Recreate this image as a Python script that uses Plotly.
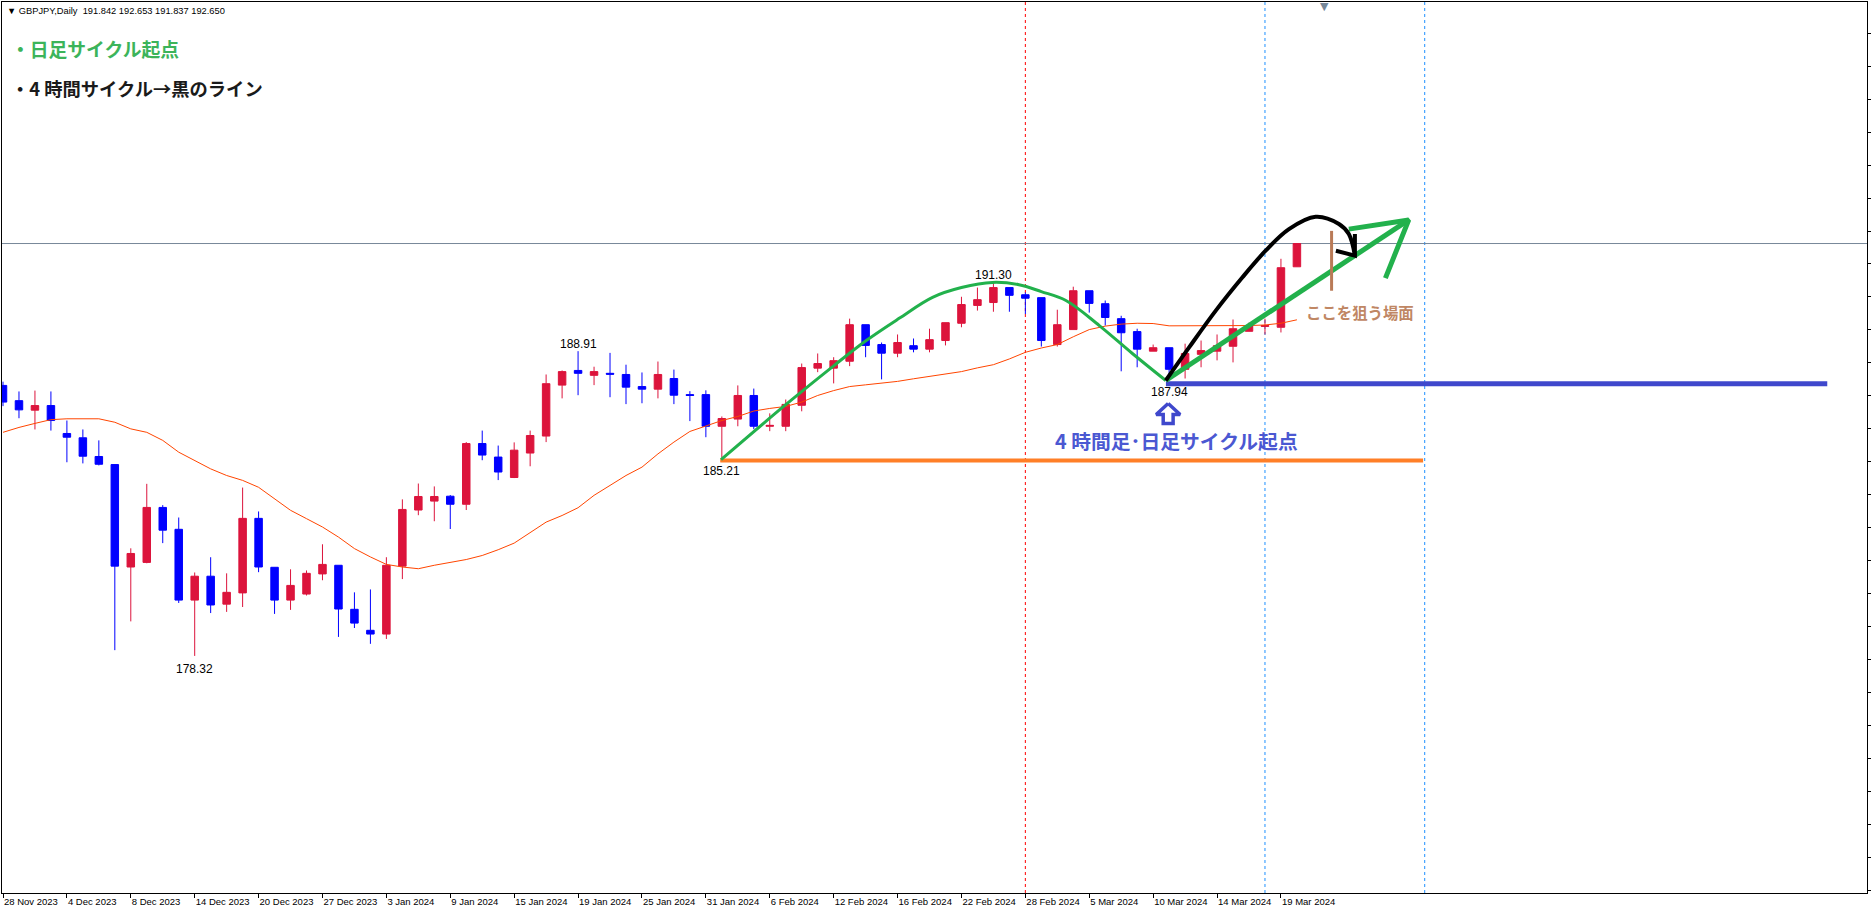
import plotly.graph_objects as go

# ---------------- data (GBPJPY daily) ----------------
bars = list(range(82))
tick_bars = [0, 4, 8, 12, 16, 20, 24, 28, 32, 36, 40, 44, 48, 52, 56, 60, 64, 68, 72, 76, 80]
tick_labels = ["28 Nov 2023", "4 Dec 2023", "8 Dec 2023", "14 Dec 2023", "20 Dec 2023",
               "27 Dec 2023", "3 Jan 2024", "9 Jan 2024", "15 Jan 2024", "19 Jan 2024",
               "25 Jan 2024", "31 Jan 2024", "6 Feb 2024", "12 Feb 2024", "16 Feb 2024",
               "22 Feb 2024", "28 Feb 2024", "5 Mar 2024", "10 Mar 2024", "14 Mar 2024",
               "19 Mar 2024"]

opens = [187.72, 187.19, 186.86, 187.02, 186.05, 185.90, 185.25, 184.97, 181.41, 181.57,
         183.48, 182.72, 180.26, 181.09, 180.12, 180.51, 183.10, 181.40, 180.26, 180.47,
         181.17, 181.47, 179.94, 179.21, 179.08, 181.44, 183.39, 183.70, 183.87, 183.59,
         185.70, 185.23, 184.52, 185.37, 185.96, 187.73, 188.24, 188.07, 188.14, 188.10,
         187.68, 187.59, 187.96, 187.40, 187.40, 186.30, 186.55, 187.37, 186.30, 186.30,
         187.03, 188.32, 188.32, 188.56, 189.83, 189.14, 188.84, 189.10, 188.98, 189.28,
         189.88, 190.50, 190.60, 191.12, 190.87, 190.77, 189.14, 189.66, 191.01, 190.56,
         190.04, 189.59, 188.91, 189.03, 188.28, 188.80, 188.91, 189.08, 189.60, 189.77,
         189.74, 191.842]
highs = [187.85, 187.51, 187.54, 187.51, 186.50, 186.19, 185.81, 184.97, 182.06, 184.30,
         183.56, 183.13, 181.22, 181.75, 181.19, 184.17, 183.34, 181.40, 181.33, 181.29,
         182.20, 181.47, 180.53, 180.63, 181.75, 183.76, 184.31, 184.21, 183.91, 185.75,
         186.15, 185.63, 185.74, 186.15, 188.10, 188.24, 188.91, 188.37, 188.85, 188.44,
         188.17, 188.55, 188.27, 187.52, 187.55, 186.64, 187.72, 187.61, 186.75, 187.23,
         188.48, 188.83, 188.70, 190.04, 189.83, 189.21, 189.49, 189.35, 189.69, 189.90,
         190.80, 191.12, 191.30, 191.12, 190.95, 190.77, 190.35, 191.15, 191.01, 190.67,
         190.14, 189.69, 189.14, 189.03, 189.17, 189.28, 189.49, 190.01, 189.90, 190.04,
         192.12, 192.653]
lows = [187.00, 186.58, 186.19, 186.15, 185.05, 185.01, 184.94, 178.52, 179.52, 181.54,
        182.24, 180.16, 178.32, 179.81, 179.85, 180.02, 181.23, 179.78, 179.92, 180.42,
        180.95, 178.98, 179.29, 178.74, 178.91, 180.99, 183.21, 183.00, 182.73, 183.39,
        185.12, 184.43, 184.50, 184.91, 185.75, 187.27, 187.38, 187.73, 187.31, 187.07,
        187.10, 187.27, 187.07, 186.48, 185.92, 185.21, 186.30, 186.20, 186.13, 186.13,
        186.82, 188.18, 187.79, 188.39, 188.70, 187.93, 188.70, 188.87, 188.87, 189.11,
        189.74, 190.32, 190.28, 190.28, 190.20, 189.07, 189.07, 189.66, 190.25, 189.80,
        188.21, 188.35, 188.91, 187.94, 187.96, 188.35, 188.59, 188.52, 189.60, 189.49,
        189.56, 191.837]
closes = [187.14, 186.87, 187.02, 186.50, 185.92, 185.26, 184.98, 181.44, 181.88, 183.48,
          182.69, 180.26, 181.09, 180.09, 180.53, 183.10, 181.41, 180.26, 180.77, 181.19,
          181.50, 179.95, 179.46, 179.08, 181.47, 183.41, 183.86, 183.86, 183.59, 185.70,
          185.30, 184.71, 185.47, 185.98, 187.78, 188.20, 188.14, 188.20, 188.11, 187.66,
          187.59, 188.10, 187.38, 187.37, 186.30, 186.57, 187.37, 186.30, 186.33, 187.06,
          188.34, 188.48, 188.58, 189.83, 189.11, 188.84, 189.21, 188.98, 189.31, 189.90,
          190.53, 190.70, 191.12, 190.85, 190.75, 189.28, 189.83, 191.01, 190.57, 190.08,
          189.55, 188.98, 189.03, 188.28, 188.83, 188.93, 189.10, 189.69, 189.80, 189.80,
          191.81, 192.650]
ma_values = [186.09, 186.26, 186.40, 186.53, 186.56, 186.56, 186.56, 186.44, 186.21, 186.09,
             185.81, 185.40, 185.11, 184.82, 184.59, 184.42, 184.18, 183.78, 183.38, 183.09,
             182.80, 182.45, 182.05, 181.76, 181.50, 181.41, 181.35, 181.47, 181.57, 181.67,
             181.81, 182.01, 182.24, 182.62, 182.97, 183.20, 183.47, 183.90, 184.24, 184.59,
             184.88, 185.34, 185.75, 186.12, 186.31, 186.50, 186.64, 186.83, 186.92, 186.99,
             187.14, 187.37, 187.54, 187.68, 187.74, 187.79, 187.86, 187.95, 188.03, 188.12,
             188.20, 188.33, 188.44, 188.64, 188.87, 189.02, 189.14, 189.41, 189.66, 189.78,
             189.85, 189.88, 189.87, 189.79, 189.79, 189.79, 189.79, 189.79, 189.80, 189.82,
             189.88, 190.00]

bid_price = 192.650
high_label_bars = [36, 62]
low_label_bars = [12, 45, 73]

# hand-drawn overlays (bar index, price)
arc_x = [44.95, 49.0, 52.0, 54.04, 56.1, 58.19, 60.0, 61.94, 63.6, 65.0, 66.54, 68.63, 70.7, 72.79]
arc_y = [185.14, 187.05, 188.40, 189.28, 190.05, 190.78, 191.12, 191.30, 191.22, 190.98, 190.67, 189.80, 188.83, 187.89]
green_line_x = [72.79, 88.0]
green_line_y = [187.89, 193.47]
green_head_x = [84.25, 88.0, 86.54]
green_head_y = [193.15, 193.47, 191.45]
black_x = [72.79, 74.25, 75.92, 77.58, 79.04, 80.50, 82.17, 83.63, 84.25, 84.63]
black_y = [187.89, 189.04, 190.32, 191.47, 192.40, 193.15, 193.58, 193.33, 192.98, 192.23]
black_head_x = [84.63, 84.63, 83.44]
black_head_y = [192.98, 192.23, 192.40]
brown_x = [83.17, 83.17]
brown_y = [193.09, 191.01]
orange_level = 185.11
orange_span = [44.9, 88.9]
blue_level = 187.78
blue_span = [72.8, 114.2]
up_arrow_x = [72.94, 73.69, 73.25, 73.25, 72.63, 72.63, 72.19, 72.94]
up_arrow_y = [187.09, 186.71, 186.71, 186.40, 186.40, 186.71, 186.71, 187.09]
red_vline = 64
blue_vlines = [79, 89]

# ---------------- figure ----------------
fig = go.Figure()

fig.add_trace(go.Scatter(x=bars, y=ma_values, mode="lines",
                         line=dict(color="#FF4500", width=1),
                         hoverinfo="skip", showlegend=False))

fig.add_trace(go.Candlestick(
    x=bars, open=opens, high=highs, low=lows, close=closes,
    increasing=dict(line=dict(color="#DC143C", width=1), fillcolor="#DC143C"),
    decreasing=dict(line=dict(color="#0000FF", width=1), fillcolor="#0000FF"),
    whiskerwidth=0, hoverinfo="skip", showlegend=False))

# horizontal levels
fig.add_trace(go.Scatter(x=orange_span, y=[orange_level, orange_level], mode="lines",
                         line=dict(color="#FF7F27", width=4), hoverinfo="skip", showlegend=False))
fig.add_trace(go.Scatter(x=blue_span, y=[blue_level, blue_level], mode="lines",
                         line=dict(color="#3F48CC", width=5), hoverinfo="skip", showlegend=False))

# green cycle arc
fig.add_trace(go.Scatter(x=arc_x, y=arc_y, mode="lines",
                         line=dict(color="#22B14C", width=3, shape="spline"),
                         hoverinfo="skip", showlegend=False))
# green arrow
fig.add_trace(go.Scatter(x=green_line_x, y=green_line_y, mode="lines",
                         line=dict(color="#22B14C", width=5), hoverinfo="skip", showlegend=False))
fig.add_trace(go.Scatter(x=green_head_x, y=green_head_y, mode="lines",
                         line=dict(color="#22B14C", width=5), hoverinfo="skip", showlegend=False))
# black curve arrow
fig.add_trace(go.Scatter(x=black_x, y=black_y, mode="lines",
                         line=dict(color="#000000", width=4, shape="spline"),
                         hoverinfo="skip", showlegend=False))
fig.add_trace(go.Scatter(x=black_head_x, y=black_head_y, mode="lines",
                         line=dict(color="#000000", width=4), hoverinfo="skip", showlegend=False))
# brown marker
fig.add_trace(go.Scatter(x=brown_x, y=brown_y, mode="lines",
                         line=dict(color="#B97A57", width=3), hoverinfo="skip", showlegend=False))
# blue hollow up arrow
fig.add_trace(go.Scatter(x=up_arrow_x, y=up_arrow_y, mode="lines", fill="toself",
                         fillcolor="white", line=dict(color="#3F48CC", width=3.5),
                         hoverinfo="skip", showlegend=False))

shapes = []
shapes.append(dict(type="line", xref="x", yref="paper", x0=red_vline, x1=red_vline, y0=0, y1=1,
                   line=dict(color="#FF0000", width=1, dash="3px,3px"), layer="below"))
for bv in blue_vlines:
    shapes.append(dict(type="line", xref="x", yref="paper", x0=bv, x1=bv, y0=0, y1=1,
                       line=dict(color="#1E90FF", width=1, dash="3px,3px"), layer="below"))
shapes.append(dict(type="line", xref="paper", yref="y", x0=0, x1=1, y0=bid_price, y1=bid_price,
                   line=dict(color="#778899", width=1), layer="below"))

annotations = []
for b in high_label_bars:
    annotations.append(dict(x=b, y=highs[b], xref="x", yref="y", text=f"{highs[b]:.2f}",
                            showarrow=False, yanchor="middle", yshift=7,
                            font=dict(family="Liberation Sans", size=12, color="black")))
for b in low_label_bars:
    annotations.append(dict(x=b, y=lows[b], xref="x", yref="y", text=f"{lows[b]:.2f}",
                            showarrow=False, yanchor="middle", yshift=-13,
                            font=dict(family="Liberation Sans", size=12, color="black")))

annotations.append(dict(x=0.0016, y=0.9899, xref="paper", yref="paper", xanchor="left",
                        yanchor="middle", showarrow=False,
                        text="▼ GBPJPY,Daily  191.842 192.653 191.837 192.650",
                        font=dict(family="Liberation Sans", size=9.3, color="black")))
annotations.append(dict(x=0.709, y=1.0, xref="paper", yref="paper", xanchor="center",
                        yanchor="top", showarrow=False, yshift=4, text="▼",
                        font=dict(family="DejaVu Sans", size=11, color="#778899")))
annotations.append(dict(x=0.0038, y=0.9473, xref="paper", yref="paper", xanchor="left",
                        yanchor="middle", showarrow=False, text="<b>・日足サイクル起点</b>",
                        font=dict(family="Noto Sans CJK JP", size=18.8, color="#3CB45A")))
annotations.append(dict(x=0.0038, y=0.9036, xref="paper", yref="paper", xanchor="left",
                        yanchor="middle", showarrow=False, text="<b>・4 時間サイクル→黒のライン</b>",
                        font=dict(family="Noto Sans CJK JP", size=18.3, color="#1A1A1A")))
annotations.append(dict(x=73.45, y=185.81, xref="x", yref="y", xanchor="center",
                        yanchor="middle", showarrow=False, text="<b>4 時間足･日足サイクル起点</b>",
                        font=dict(family="Noto Sans CJK JP", size=19.8, color="#4B58D2")))
annotations.append(dict(x=84.94, y=190.26, xref="x", yref="y", xanchor="center",
                        yanchor="middle", showarrow=False, text="<b>ここを狙う場面</b>",
                        font=dict(family="Noto Sans CJK JP", size=15.4, color="#C08764")))

fig.update_layout(
    width=1871, height=911,
    margin=dict(l=1, r=2, t=1, b=18),
    paper_bgcolor="white", plot_bgcolor="white",
    showlegend=False, shapes=shapes, annotations=annotations,
    boxgap=0.33,
    xaxis=dict(range=[-0.0625, 116.6875], rangeslider=dict(visible=False),
               tickmode="array", tickvals=tick_bars, ticktext=tick_labels,
               ticks="outside", ticklen=4, tickcolor="black",
               ticklabelposition="outside right",
               tickfont=dict(family="Liberation Sans", size=9.5, color="black"),
               showgrid=False, zeroline=False, showline=True, linecolor="black",
               linewidth=1, mirror=True, fixedrange=True),
    yaxis=dict(range=[170.082, 201.043], side="right", showgrid=False, zeroline=False,
               showline=True, linecolor="black", linewidth=1, mirror=True,
               ticks="outside", ticklen=3, tickcolor="black", tick0=199.957, dtick=1.1454,
               showticklabels=False, fixedrange=True),
)

fig.write_html(
    "out.html",
    config={"displayModeBar": False},
    post_script="document.body.style.margin='0';document.body.style.padding='0';"
                "document.body.style.overflow='hidden';",
)
